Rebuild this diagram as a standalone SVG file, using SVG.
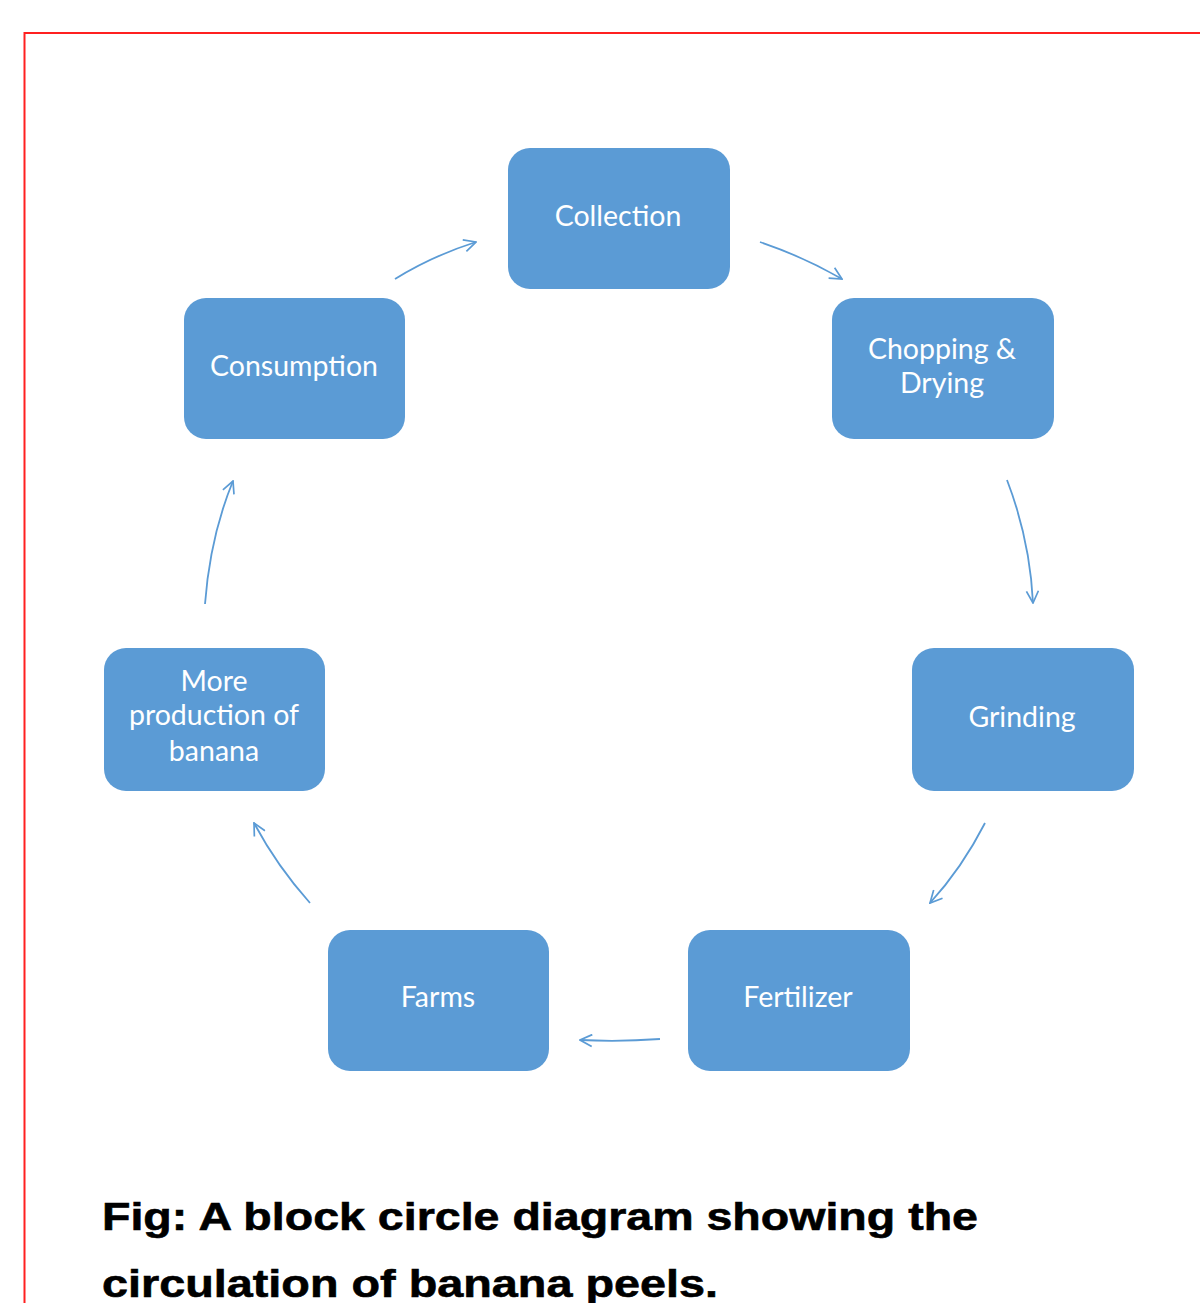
<svg xmlns="http://www.w3.org/2000/svg" width="1200" height="1303" viewBox="0 0 1200 1303">
<defs>
<style>
.box{fill:#5B9BD5;}
.lbl{fill:#FFFFFF;font-family:Lato,"Open Sans","Liberation Sans",sans-serif;font-size:28.5px;text-anchor:middle;}
.con{fill:none;stroke:#5B9BD5;stroke-width:1.8;marker-end:url(#ah);}
.cap{fill:#000;font-family:"Liberation Sans",Arial,sans-serif;font-weight:bold;font-size:39px;stroke:#000;stroke-width:0.6;}
</style>
<marker id="ah" viewBox="0 0 14 14" refX="13" refY="7" markerWidth="14" markerHeight="14" markerUnits="userSpaceOnUse" orient="auto">
<path d="M1,1 L13,7 L1,13" fill="none" stroke="#5B9BD5" stroke-width="1.7"/>
</marker>
</defs>
<rect width="1200" height="1303" fill="#FFFFFF"/>
<path d="M1202,33 H24.5 V1305" fill="none" stroke="#FF2020" stroke-width="2"/>
<g id="connectors">
<path class="con" d="M395,279 Q432,256 476,242"/>
<path class="con" d="M760,242 Q804,257 842,279"/>
<path class="con" d="M1007,480 Q1030,540 1033,603"/>
<path class="con" d="M985,823 Q962,868 930,903"/>
<path class="con" d="M660,1039 Q620,1042 580,1040"/>
<path class="con" d="M310,903 Q277,866 254,823"/>
<path class="con" d="M205,604 Q210,537 233,481"/>
</g>
<g id="node-collection">
<rect class="box" x="508" y="148" width="222" height="141" rx="22"/>
<text class="lbl" x="618" y="226">Collection</text>
</g>
<g id="node-chopping">
<rect class="box" x="832" y="298" width="222" height="141" rx="22"/>
<text class="lbl" x="942" y="359">Chopping &amp;</text>
<text class="lbl" x="942" y="393">Drying</text>
</g>
<g id="node-grinding">
<rect class="box" x="912" y="648" width="222" height="143" rx="22"/>
<text class="lbl" x="1022" y="727">Grinding</text>
</g>
<g id="node-fertilizer">
<rect class="box" x="688" y="930" width="222" height="141" rx="22"/>
<text class="lbl" x="798" y="1007">Fertilizer</text>
</g>
<g id="node-farms">
<rect class="box" x="328" y="930" width="221" height="141" rx="22"/>
<text class="lbl" x="438" y="1007">Farms</text>
</g>
<g id="node-more-production">
<rect class="box" x="104" y="648" width="221" height="143" rx="22"/>
<text class="lbl" x="214" y="691">More</text>
<text class="lbl" x="214" y="725">production of</text>
<text class="lbl" x="214" y="761">banana</text>
</g>
<g id="node-consumption">
<rect class="box" x="184" y="298" width="221" height="141" rx="22"/>
<text class="lbl" x="294" y="376">Consumption</text>
</g>
<g id="caption">
<text class="cap" x="102" y="1230" textLength="876" lengthAdjust="spacingAndGlyphs">Fig: A block circle diagram showing the</text>
<text class="cap" x="102" y="1297" textLength="616" lengthAdjust="spacingAndGlyphs">circulation of banana peels.</text>
</g>
</svg>
